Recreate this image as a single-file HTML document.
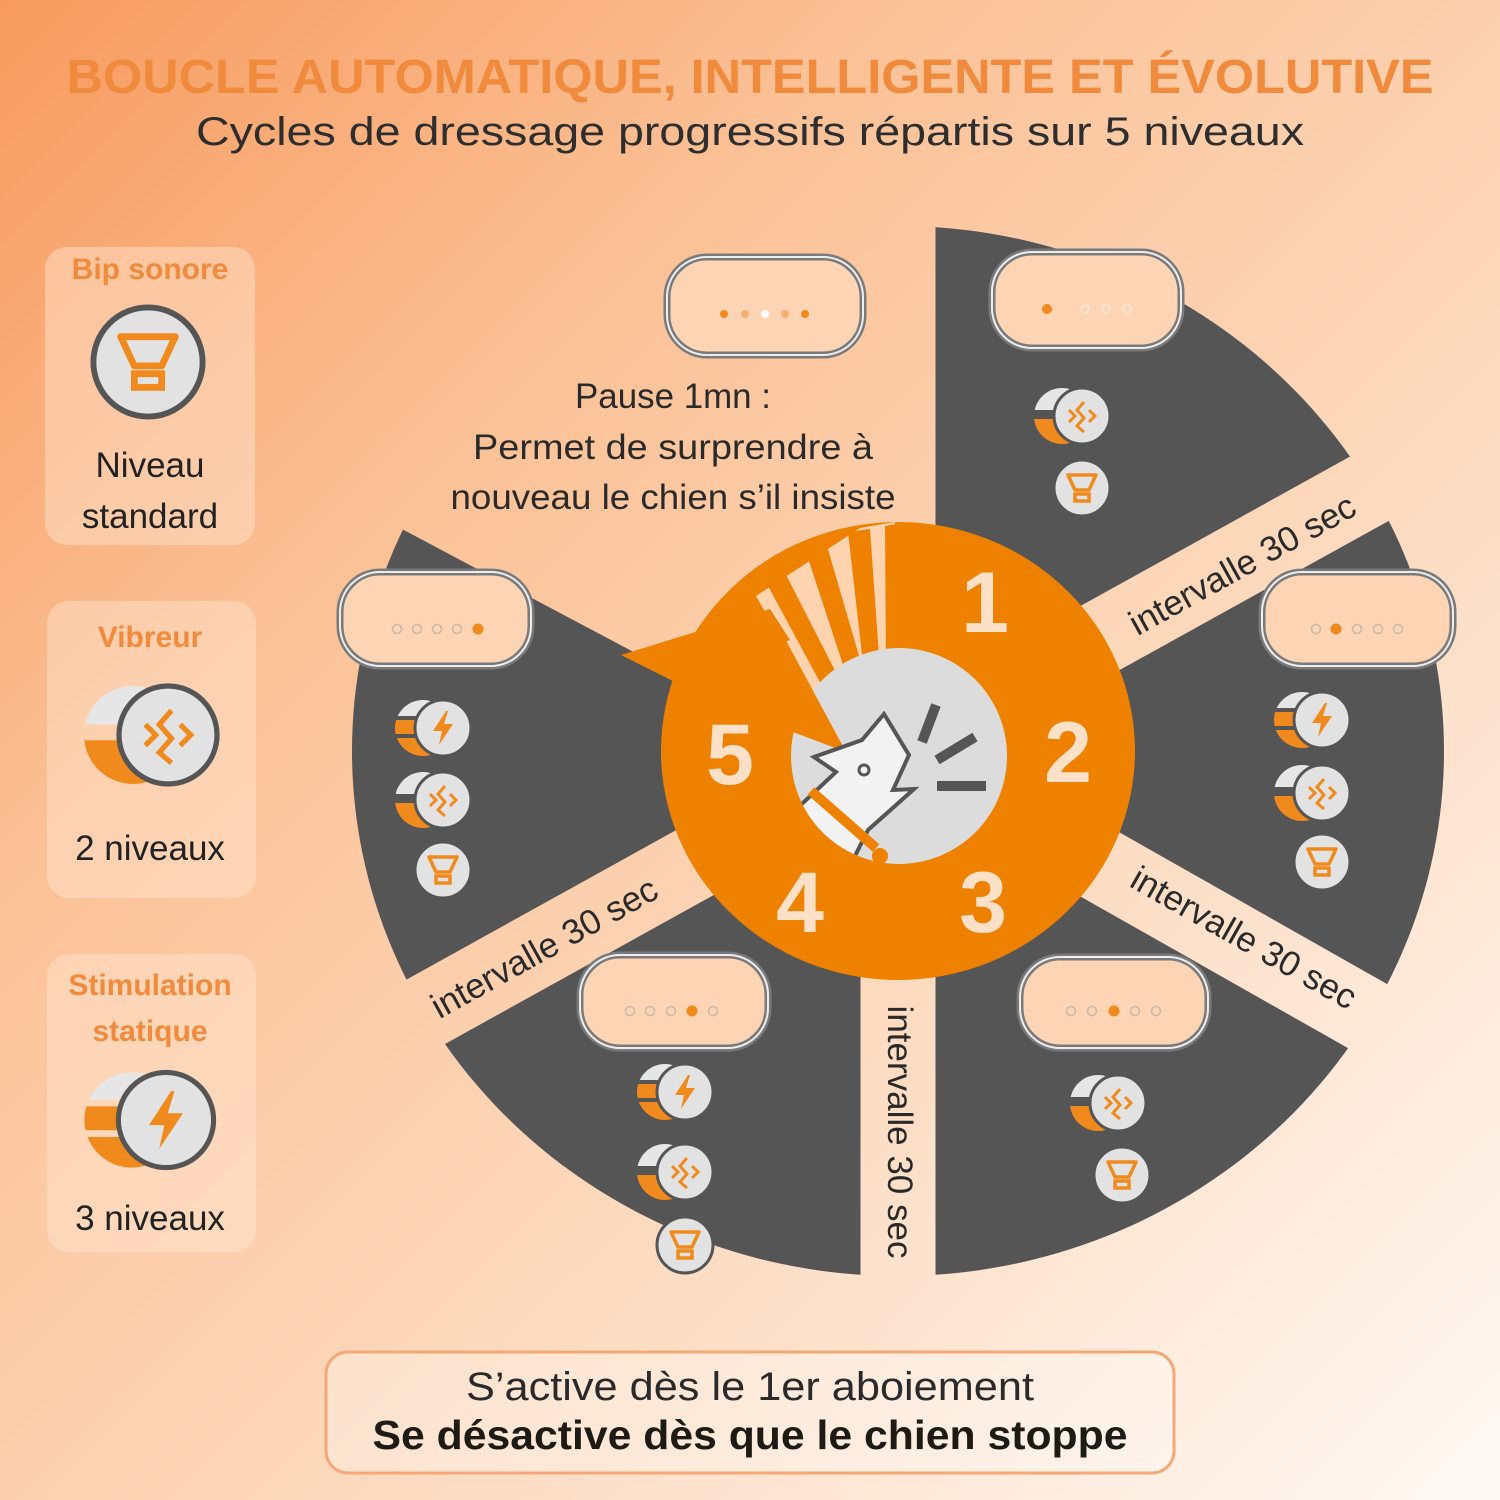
<!DOCTYPE html>
<html><head><meta charset="utf-8"><style>
html,body{margin:0;padding:0;width:1500px;height:1500px;overflow:hidden}
body{background:linear-gradient(135deg,#f79a5e 0%,#fbc196 30%,#fcd8bb 60%,#fff9f5 100%)}
svg{position:absolute;left:0;top:0}
text{font-family:"Liberation Sans",sans-serif}
</style></head><body>
<svg width="1500" height="1500" viewBox="0 0 1500 1500">
<defs>
<mask id="m">
<rect width="1500" height="1500" fill="black"/>
<ellipse cx="898" cy="751" rx="546" ry="525" fill="white"/>
<g stroke="black" stroke-width="75">
<line x1="898" y1="750" x2="898" y2="0"/>
<line x1="898" y1="750" x2="1773" y2="265"/>
<line x1="898" y1="750" x2="1768" y2="1243"/>
<line x1="898" y1="750" x2="898" y2="1500"/>
<line x1="898" y1="750" x2="23" y2="1235"/>
<line x1="898" y1="750" x2="15" y2="281"/>
</g>
<polygon points="898,750 15,281 0,0 898,0" fill="black"/>
</mask>
<clipPath id="cb"><circle cx="-20" cy="0" r="28"/></clipPath>
<clipPath id="gc"><circle cx="899" cy="756" r="108"/></clipPath>
<g id="beep"><circle r="28" fill="#e2e2e2" stroke="#555" stroke-width="3"/>
<path d="M-14,-13 L14,-13 L7,2 L-7,2 Z" fill="none" stroke="#f08a1c" stroke-width="3.5" stroke-linejoin="round"/>
<rect x="-7" y="6" width="14" height="7" fill="none" stroke="#f08a1c" stroke-width="3.5"/></g>
<g id="vibe"><g clip-path="url(#cb)"><rect x="-50" y="-28" width="45" height="22" fill="#e6e6e6"/><rect x="-50" y="3" width="45" height="26" fill="#f08a1c"/></g>
<circle r="28" fill="#e2e2e2" stroke="#555" stroke-width="3"/>
<g fill="none" stroke="#f08a1c" stroke-width="3"><polyline points="-13,-6 -7,0 -13,6"/><polyline points="7,-6 13,0 7,6"/><polyline points="2,-14 -5,-6 2,2 -5,10 2,16"/></g></g>
<g id="zap"><g clip-path="url(#cb)"><rect x="-50" y="-28" width="45" height="16" fill="#e6e6e6"/><rect x="-50" y="-8" width="45" height="14" fill="#f08a1c"/><rect x="-50" y="10" width="45" height="19" fill="#f08a1c"/></g>
<circle r="28" fill="#e2e2e2" stroke="#555" stroke-width="3"/>
<polygon points="3,-17 -10,3 -1,3 -4,17 10,-4 1,-4 5,-17" fill="#f08a1c"/></g>
</defs>

<text x="750" y="93" text-anchor="middle" font-size="48" font-weight="bold" fill="#f08a3c" textLength="1367" lengthAdjust="spacingAndGlyphs">BOUCLE AUTOMATIQUE, INTELLIGENTE ET ÉVOLUTIVE</text>
<text x="750" y="145" text-anchor="middle" font-size="40" fill="#2e2e2e" textLength="1108" lengthAdjust="spacingAndGlyphs">Cycles de dressage progressifs répartis sur 5 niveaux</text>

<g fill="#ffe6d2" fill-opacity="0.45">
<rect x="45" y="247" width="210" height="298" rx="22"/>
<rect x="47" y="601" width="209" height="297" rx="22"/>
<rect x="47" y="954" width="209" height="298" rx="22"/>
</g>
<g text-anchor="middle" font-weight="bold" fill="#f08a3c" font-size="30">
<text x="150" y="279">Bip sonore</text><text x="150" y="647">Vibreur</text>
<text x="150" y="995">Stimulation</text><text x="150" y="1041">statique</text></g>
<g text-anchor="middle" fill="#222" font-size="35">
<text x="150" y="477">Niveau</text><text x="150" y="528">standard</text>
<text x="150" y="860">2 niveaux</text><text x="150" y="1230">3 niveaux</text></g>
<use href="#beep" transform="translate(148,362) scale(1.95)"/>
<use href="#vibe" transform="translate(168,735) scale(1.75)"/>
<use href="#zap" transform="translate(166,1120) scale(1.7)"/>

<rect width="1500" height="1500" fill="#565556" mask="url(#m)"/>

<g font-size="35" fill="#2a2a2a" text-anchor="middle">
<text transform="translate(1248,575) rotate(-29)">intervalle 30 sec</text>
<text transform="translate(1238,948) rotate(29.5)">intervalle 30 sec</text>
<text transform="translate(888,1132) rotate(90)">intervalle 30 sec</text>
<text transform="translate(550,958) rotate(-29)">intervalle 30 sec</text>
</g>

<g font-size="35" fill="#2a2a2a" text-anchor="middle">
<text x="673" y="408" textLength="196" lengthAdjust="spacingAndGlyphs">Pause 1mn :</text>
<text x="673" y="459" textLength="400" lengthAdjust="spacingAndGlyphs">Permet de surprendre à</text>
<text x="673" y="509" textLength="445" lengthAdjust="spacingAndGlyphs">nouveau le chien s’il insiste</text></g>

<g>
<g fill="#fdd5b5" stroke="#7a7a7a" stroke-width="7">
<rect x="667" y="257" width="196" height="98" rx="40"/>
<rect x="992" y="252" width="189" height="96" rx="40"/>
<rect x="1262" y="572" width="191" height="94" rx="40"/>
<rect x="340" y="572" width="191" height="94" rx="40"/>
<rect x="580" y="955" width="188" height="93" rx="40"/>
<rect x="1020" y="957" width="188" height="91" rx="40"/>
</g>
<g fill="none" stroke="#eee" stroke-width="2">
<rect x="667" y="257" width="196" height="98" rx="40"/>
<rect x="992" y="252" width="189" height="96" rx="40"/>
<rect x="1262" y="572" width="191" height="94" rx="40"/>
<rect x="340" y="572" width="191" height="94" rx="40"/>
<rect x="580" y="955" width="188" height="93" rx="40"/>
<rect x="1020" y="957" width="188" height="91" rx="40"/>
</g>
</g>
<g stroke-width="1.5">
<circle cx="724" cy="314" r="4" fill="#f08a1c"/><circle cx="745" cy="314" r="4" fill="#f5b070"/><circle cx="765" cy="314" r="4" fill="#fff"/><circle cx="785" cy="314" r="4" fill="#f5b070"/><circle cx="805" cy="314" r="4" fill="#f08a1c"/>
<circle cx="1047" cy="309" r="5" fill="#f08a1c"/>
<g fill="none" stroke="#fbe8da"><circle cx="1085" cy="309" r="4"/><circle cx="1106" cy="309" r="4"/><circle cx="1127" cy="309" r="4"/></g>
<g fill="none" stroke="#c8b8ac"><circle cx="1316" cy="629" r="4.5"/><circle cx="1357" cy="629" r="4.5"/><circle cx="1378" cy="629" r="4.5"/><circle cx="1398" cy="629" r="4.5"/>
<circle cx="397" cy="629" r="4.5"/><circle cx="417" cy="629" r="4.5"/><circle cx="437" cy="629" r="4.5"/><circle cx="457" cy="629" r="4.5"/>
<circle cx="630" cy="1011" r="4.5"/><circle cx="650" cy="1011" r="4.5"/><circle cx="671" cy="1011" r="4.5"/><circle cx="713" cy="1011" r="4.5"/>
<circle cx="1071" cy="1011" r="4.5"/><circle cx="1092" cy="1011" r="4.5"/><circle cx="1135" cy="1011" r="4.5"/><circle cx="1156" cy="1011" r="4.5"/></g>
<g fill="#f08a1c"><circle cx="1336" cy="629" r="5.5"/><circle cx="478" cy="629" r="5.5"/><circle cx="692" cy="1011" r="5.5"/><circle cx="1114" cy="1011" r="5.5"/></g>
</g>

<use href="#vibe" transform="translate(1082,416)"/><use href="#beep" transform="translate(1082,488)"/>
<use href="#zap" transform="translate(1322,720)"/><use href="#vibe" transform="translate(1322,793)"/><use href="#beep" transform="translate(1322,862)"/>
<use href="#vibe" transform="translate(1118,1103)"/><use href="#beep" transform="translate(1122,1175)"/>
<use href="#zap" transform="translate(685,1092)"/><use href="#vibe" transform="translate(685,1172)"/><use href="#beep" transform="translate(685,1245)"/>
<use href="#zap" transform="translate(443,728)"/><use href="#vibe" transform="translate(443,800)"/><use href="#beep" transform="translate(443,870)"/>

<ellipse cx="898" cy="751" rx="237" ry="229" fill="#ee8100"/>
<polygon points="756,596 860,528 895,522 895,700 846,752" fill="#fdd3b0"/>
<g fill="#ee8100">
<polygon points="761,573 779,561 850,700 835,710"/>
<polygon points="804,546 825,539 866,680 850,686"/>
<polygon points="848,532 870,529 880,670 864,672"/>
<polygon points="885,526 896,524 896,670 886,670"/>
</g>
<circle cx="899" cy="756" r="108" fill="#dcdcdc"/>
<polygon points="770,611 846,752 793,732 745,700" fill="#ee8100"/>
<polygon points="621,655 770,609 790,640 675,682" fill="#ee8100"/>
<g clip-path="url(#gc)">
<path d="M790,815 L836,772 L814,757 L862,740 L884,714 L909,755 L893,790 L914,789 L868,830 L853,860 L854,900 L760,900 Z" fill="#f2f2f2" stroke="#555" stroke-width="4" stroke-linejoin="miter"/>
<circle cx="864" cy="770" r="5" fill="none" stroke="#555" stroke-width="3"/>
<line x1="811" y1="791" x2="876" y2="848" stroke="#ee8100" stroke-width="10"/>
</g>
<circle cx="880" cy="856" r="8" fill="#ee8100"/>
<g stroke="#555" stroke-width="10"><line x1="936" y1="705" x2="922" y2="742"/><line x1="975" y1="737" x2="937" y2="760"/><line x1="937" y1="786" x2="986" y2="786"/></g>
<g font-size="86" font-weight="bold" fill="#fde0c8" text-anchor="middle">
<text x="985" y="632">1</text><text x="1068" y="782">2</text><text x="983" y="932">3</text><text x="800" y="932">4</text><text x="730" y="784">5</text></g>

<rect x="326" y="1352" width="848" height="121" rx="22" fill="#fff" fill-opacity="0.3" stroke="#f5a877" stroke-width="3"/>
<text x="750" y="1400" text-anchor="middle" font-size="40" fill="#2a2a2a" textLength="568" lengthAdjust="spacingAndGlyphs">S’active dès le 1er aboiement</text>
<text x="750" y="1449" text-anchor="middle" font-size="41" font-weight="bold" fill="#1e1a14" textLength="755" lengthAdjust="spacingAndGlyphs">Se désactive dès que le chien stoppe</text>
</svg>
</body></html>
